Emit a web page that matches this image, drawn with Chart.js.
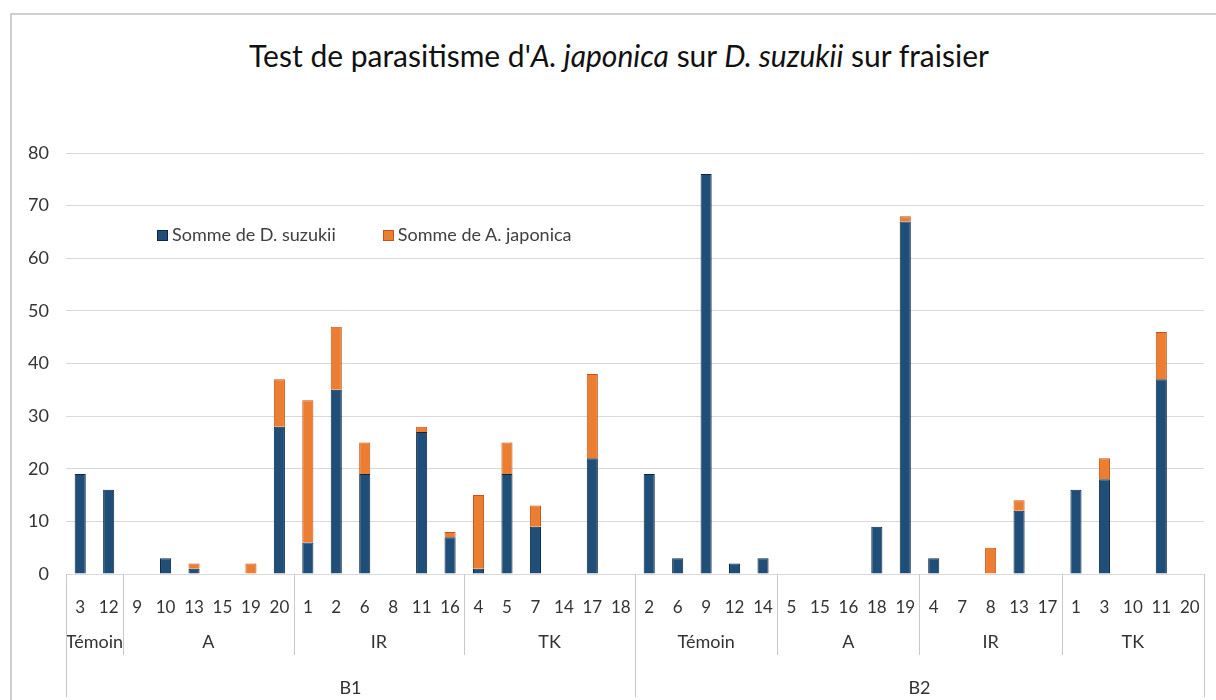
<!DOCTYPE html>
<html lang="fr">
<head>
    <meta charset="UTF-8">
    <title>Test de parasitisme</title>
    <script src="https://cdn.jsdelivr.net/npm/chart.js"></script>
    <style>
        body {
            margin: 0;
            background: #fff;
            font-family: Lato, "Open Sans", sans-serif;
        }

        #wrap {
            position: relative;
            width: 1216px;
            height: 700px;
            overflow: hidden;
            background: #fff;
        }

        #frame {
            position: absolute;
            left: 10px;
            top: 13px;
            width: 1220px;
            height: 720px;
            border: 2px solid #d0d0d0;
        }

        #title {
            position: absolute;
            left: 0;
            top: 37px;
            width: 1238px;
            text-align: center;
            font-size: 30px;
            color: #111;
        }

        #legend {
            position: absolute;
            left: 158px;
            top: 223px;
            font-size: 18px;
            color: #404040;
            display: flex;
        }

        #legend span.box {
            display: inline-block;
            width: 9px;
            height: 9px;
            margin-right: 5px;
            vertical-align: 1px;
        }

        #legend div {
            margin-right: 48px;
        }

        canvas {
            position: absolute;
            left: 0;
            top: 0;
        }
    </style>
</head>
<body>
    <div id="wrap">
        <div id="frame"></div>
        <div id="title">Test de parasitisme d'<i>A. japonica</i> sur <i>D. suzukii</i> sur fraisier</div>
        <canvas id="parasChart" width="1216" height="700"></canvas>
        <div id="legend"></div>
    </div>

    <script>
        // parcelles (ordre de l'axe)
        const plots = ['3', '12', '9', '10', '13', '15', '19', '20', '1', '2', '6', '8', '11', '16', '4', '5', '7', '14', '17', '18',
                       '2', '6', '9', '12', '14', '5', '15', '16', '18', '19', '4', '7', '8', '13', '17', '1', '3', '10', '11', '20'];

        // modalites et blocs
        const treatmentNames = ['Témoin', 'A', 'IR', 'TK', 'Témoin', 'A', 'IR', 'TK'];
        const treatmentSizes = [2, 6, 6, 6, 5, 5, 5, 5];
        const blockNames = ['B1', 'B2'];
        const blockSizes = [20, 20];

        const suzukii = [19, 16, 0, 3, 1, 0, 0, 28, 6, 35, 19, 0, 27, 7, 1, 19, 9, 0, 22, 0,
                         19, 3, 76, 2, 3, 0, 0, 0, 9, 67, 3, 0, 0, 12, 0, 16, 18, 0, 37, 0];
        const japonica = [0, 0, 0, 0, 1, 0, 2, 9, 27, 12, 6, 0, 1, 1, 14, 6, 4, 0, 16, 0,
                          0, 0, 0, 0, 0, 0, 0, 0, 0, 1, 0, 0, 5, 2, 0, 0, 4, 0, 9, 0];

        const yTicks = [0, 10, 20, 30, 40, 50, 60, 70, 80];

        const BLUE = '#1f4e79';
        const ORANGE = '#ed7d31';
        const LINE = '#d9d9d9';
        const TXT = '#333333';
        const FONT = 'Lato, "Open Sans", sans-serif';

        // etiquettes a plusieurs niveaux sous l'axe
        const groupLabels = {
            id: 'groupLabels',
            afterDraw(chart) {
                const ctx = chart.ctx;
                const x = chart.scales.x;
                const step = x.width / plots.length;
                const bottom = chart.chartArea.bottom;
                ctx.save();
                ctx.strokeStyle = '#c8c8c8';
                ctx.lineWidth = 1;
                ctx.fillStyle = TXT;
                ctx.font = '18px ' + FONT;
                ctx.textAlign = 'center';
                ctx.textBaseline = 'middle';

                function vline(px, y2) {
                    ctx.beginPath();
                    ctx.moveTo(Math.round(px) + 0.5, bottom);
                    ctx.lineTo(Math.round(px) + 0.5, y2);
                    ctx.stroke();
                }

                let i = 0;
                treatmentSizes.forEach((n, k) => {
                    const x0 = x.getPixelForValue(i) - step / 2;
                    const x1 = x.getPixelForValue(i + n - 1) + step / 2;
                    vline(x0, 655);
                    ctx.fillText(treatmentNames[k], (x0 + x1) / 2, 642);
                    i += n;
                });

                i = 0;
                blockSizes.forEach((n, k) => {
                    const x0 = x.getPixelForValue(i) - step / 2;
                    const x1 = x.getPixelForValue(i + n - 1) + step / 2;
                    vline(x0, 697);
                    if (k === blockSizes.length - 1) vline(x1, 697);
                    ctx.fillText(blockNames[k], (x0 + x1) / 2, 688);
                    i += n;
                });
                ctx.restore();
            }
        };

        function createChart() {
            const ctx = document.getElementById('parasChart').getContext('2d');

            const chart = new Chart(ctx, {
                type: 'bar',
                data: {
                    labels: plots,
                    datasets: [{
                        label: 'Somme de D. suzukii',
                        data: suzukii,
                        backgroundColor: BLUE,
                        borderColor: '#0d2740',
                        borderWidth: c => c.raw ? 1 : 0
                    }, {
                        label: 'Somme de A. japonica',
                        data: japonica,
                        backgroundColor: ORANGE,
                        borderColor: '#c0561a',
                        borderWidth: c => c.raw ? 1 : 0
                    }]
                },
                options: {
                    responsive: false,
                    animation: false,
                    barPercentage: 0.39,
                    categoryPercentage: 1,
                    layout: {
                        padding: { top: 153, right: 12, left: 0, bottom: 0 }
                    },
                    plugins: {
                        legend: { display: false },
                        title: { display: false },
                        tooltip: { enabled: false }
                    },
                    scales: {
                        x: {
                            stacked: true,
                            grid: { display: false },
                            border: { display: true, color: LINE },
                            ticks: {
                                color: TXT,
                                font: { family: FONT, size: 17 },
                                autoSkip: false,
                                maxRotation: 0,
                                padding: 15
                            },
                            afterFit: s => { s.height = 126; }
                        },
                        y: {
                            stacked: true,
                            min: 0,
                            max: 80,
                            afterBuildTicks: s => { s.ticks = yTicks.map(v => ({ value: v })); },
                            grid: { color: LINE, drawTicks: false },
                            border: { display: false },
                            ticks: {
                                color: TXT,
                                font: { family: FONT, size: 18 },
                                padding: 17
                            },
                            afterFit: s => { s.width = 66; }
                        }
                    }
                },
                plugins: [groupLabels]
            });

            // legende dans la zone du graphique
            const leg = document.getElementById('legend');
            chart.data.datasets.forEach(ds => {
                const d = document.createElement('div');
                d.innerHTML = '<span class="box" style="background:' + ds.backgroundColor +
                    ';outline:1px solid ' + ds.borderColor + '"></span>' + ds.label;
                leg.appendChild(d);
            });
        }
        createChart();
    </script>
</body>
</html>
